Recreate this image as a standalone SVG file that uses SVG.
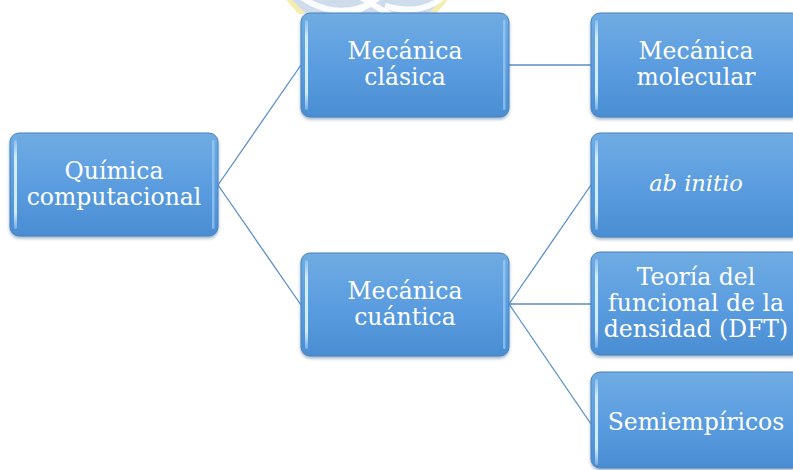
<svg xmlns="http://www.w3.org/2000/svg" width="793" height="470" viewBox="0 0 793 470">
<defs>
<linearGradient id="g" x1="0" y1="0" x2="0" y2="1">
<stop offset="0" stop-color="#70ace3"/>
<stop offset="0.5" stop-color="#5b9de0"/>
<stop offset="1" stop-color="#4a8dd2"/>
</linearGradient>
<linearGradient id="hl" x1="0" y1="0" x2="0" y2="1">
<stop offset="0" stop-color="#d8f2ff" stop-opacity="0.3"/>
<stop offset="0.2" stop-color="#d8f2ff" stop-opacity="0.95"/>
<stop offset="0.8" stop-color="#d8f2ff" stop-opacity="0.95"/>
<stop offset="1" stop-color="#d8f2ff" stop-opacity="0.3"/>
</linearGradient>
<filter id="sh" x="-10%" y="-10%" width="120%" height="130%">
<feDropShadow dx="0" dy="2" stdDeviation="1.5" flood-color="#2a5a8a" flood-opacity="0.45"/>
</filter>
<clipPath id="wm"><rect x="0" y="0" width="793" height="14"/></clipPath>
</defs>
<style>
.box{fill:url(#g);stroke:#4b82bd;stroke-width:1;filter:url(#sh)}
.hl{fill:url(#hl)}
.hr{fill:#a9d6f5;opacity:0.6}
.t{font-family:"DejaVu Serif","Liberation Serif",serif;font-size:23.5px;fill:#ffffff;text-anchor:middle}
.c{stroke:#5a8fc8;stroke-width:1.3;fill:none}
</style>
<g id="watermark" clip-path="url(#wm)">
<circle cx="367" cy="-60" r="98" fill="#cfdcec" stroke="#f5ecb0" stroke-width="5"/>
<path d="M300 -4 Q335 22 375 2" stroke="#ffffff" stroke-width="6" fill="none" opacity="0.9"/>
<path d="M350 16 L378 -2 M362 -2 L392 16" stroke="#ffffff" stroke-width="6" fill="none" opacity="0.9"/>
<path d="M385 6 Q420 16 442 -2" stroke="#ffffff" stroke-width="6" fill="none" opacity="0.9"/>
</g>
<g id="connectors">
<line class="c" x1="218" y1="185" x2="301" y2="65"/>
<line class="c" x1="218" y1="185" x2="301" y2="305"/>
<line class="c" x1="509" y1="65" x2="591" y2="65"/>
<line class="c" x1="509" y1="304" x2="591" y2="185"/>
<line class="c" x1="509" y1="304" x2="591" y2="304"/>
<line class="c" x1="509" y1="304" x2="591" y2="424"/>
</g>
<g id="n1">
<rect class="box" x="10" y="133" width="208" height="103" rx="9"/>
<rect class="hl" x="14" y="140" width="3" height="89" rx="1.5"/>
<rect class="hr" x="212" y="140" width="2.5" height="89" rx="1.2"/>
<text class="t" x="114" y="179">Química</text>
<text class="t" x="114" y="205">computacional</text>
</g>
<g id="n2">
<rect class="box" x="301" y="13" width="208" height="104" rx="9"/>
<rect class="hl" x="305" y="20" width="3" height="90" rx="1.5"/>
<rect class="hr" x="503" y="20" width="2.5" height="90" rx="1.2"/>
<text class="t" x="405" y="59">Mecánica</text>
<text class="t" x="405" y="85">clásica</text>
</g>
<g id="n3">
<rect class="box" x="301" y="253" width="208" height="103" rx="9"/>
<rect class="hl" x="305" y="260" width="3" height="89" rx="1.5"/>
<rect class="hr" x="503" y="260" width="2.5" height="89" rx="1.2"/>
<text class="t" x="405" y="299">Mecánica</text>
<text class="t" x="405" y="325">cuántica</text>
</g>
<g id="n4">
<rect class="box" x="591" y="13" width="210" height="104" rx="9"/>
<rect class="hl" x="595" y="20" width="3" height="90" rx="1.5"/>
<text class="t" x="696" y="59">Mecánica</text>
<text class="t" x="696" y="85">molecular</text>
</g>
<g id="n5">
<rect class="box" x="591" y="133" width="210" height="104" rx="9"/>
<rect class="hl" x="595" y="140" width="3" height="90" rx="1.5"/>
<text class="t" x="696" y="191" font-style="italic" style="font-size:22.5px">ab initio</text>
</g>
<g id="n6">
<rect class="box" x="591" y="252" width="210" height="103" rx="9"/>
<rect class="hl" x="595" y="259" width="3" height="89" rx="1.5"/>
<text class="t" x="696" y="285">Teoría del</text>
<text class="t" x="696" y="311">funcional de la</text>
<text class="t" x="696" y="337">densidad (DFT)</text>
</g>
<g id="n7">
<rect class="box" x="591" y="372" width="210" height="96" rx="9"/>
<rect class="hl" x="595" y="379" width="3" height="86" rx="1.5"/>
<text class="t" x="696" y="430">Semiempíricos</text>
</g>
</svg>
